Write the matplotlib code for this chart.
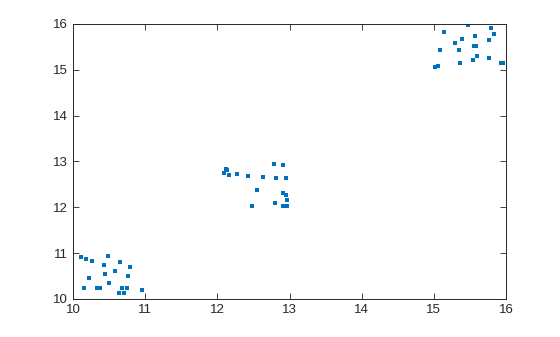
import matplotlib
matplotlib.use('Agg')
import matplotlib.pyplot as plt

# points, three groups
x1 = [10.115, 10.184, 10.267, 10.489, 10.434, 10.655, 10.794, 10.448, 10.586, 10.766,
      10.226, 10.503, 10.157, 10.337, 10.378, 10.683, 10.752, 10.642, 10.711, 10.96]
y1 = [10.91, 10.866, 10.823, 10.932, 10.735, 10.80, 10.69, 10.54, 10.60, 10.495,
      10.45, 10.343, 10.233, 10.233, 10.233, 10.233, 10.233, 10.124, 10.124, 10.19]

x2 = [12.79, 12.914, 12.124, 12.138, 12.096, 12.166, 12.277, 12.43, 12.637, 12.817,
      12.956, 12.554, 12.914, 12.956, 12.97, 12.803, 12.484, 12.914, 12.97]
y2 = [12.94, 12.917, 12.83, 12.81, 12.743, 12.70, 12.72, 12.68, 12.655, 12.634,
      12.634, 12.37, 12.306, 12.263, 12.154, 12.088, 12.023, 12.023, 12.023]

x3 = [15.477, 15.796, 15.145, 15.838, 15.574, 15.394, 15.297, 15.768, 15.56, 15.58,
      15.09, 15.353, 15.602, 15.768, 15.547, 15.366, 15.934, 15.954, 15.06, 15.02]
y3 = [15.97, 15.907, 15.82, 15.776, 15.733, 15.667, 15.58, 15.645, 15.514, 15.514,
      15.427, 15.427, 15.296, 15.252, 15.209, 15.143, 15.143, 15.143, 15.078, 15.056]

xs = x1 + x2 + x3
ys = y1 + y2 + y3

plt.rcParams['font.family'] = ['Liberation Sans', 'DejaVu Sans']

fig = plt.figure(figsize=(5.6, 3.37), dpi=100)
ax = fig.add_axes([0.1304, 0.1128, 0.7732, 0.816])
ax.plot(xs, ys, 's', color='#0072BD', markersize=2.4, markeredgewidth=0)

ax.set_xlim(10, 16)
ax.set_ylim(10, 16)
ax.set_xticks(range(10, 17))
ax.set_yticks(range(10, 17))
ax.tick_params(direction='in', length=4, width=0.6, colors='#262626', labelsize=9.5,
               top=True, right=True, labeltop=False, labelright=False)
for sp in ax.spines.values():
    sp.set_color('#262626')
    sp.set_linewidth(0.7)

fig.savefig('out.png', dpi=100)
